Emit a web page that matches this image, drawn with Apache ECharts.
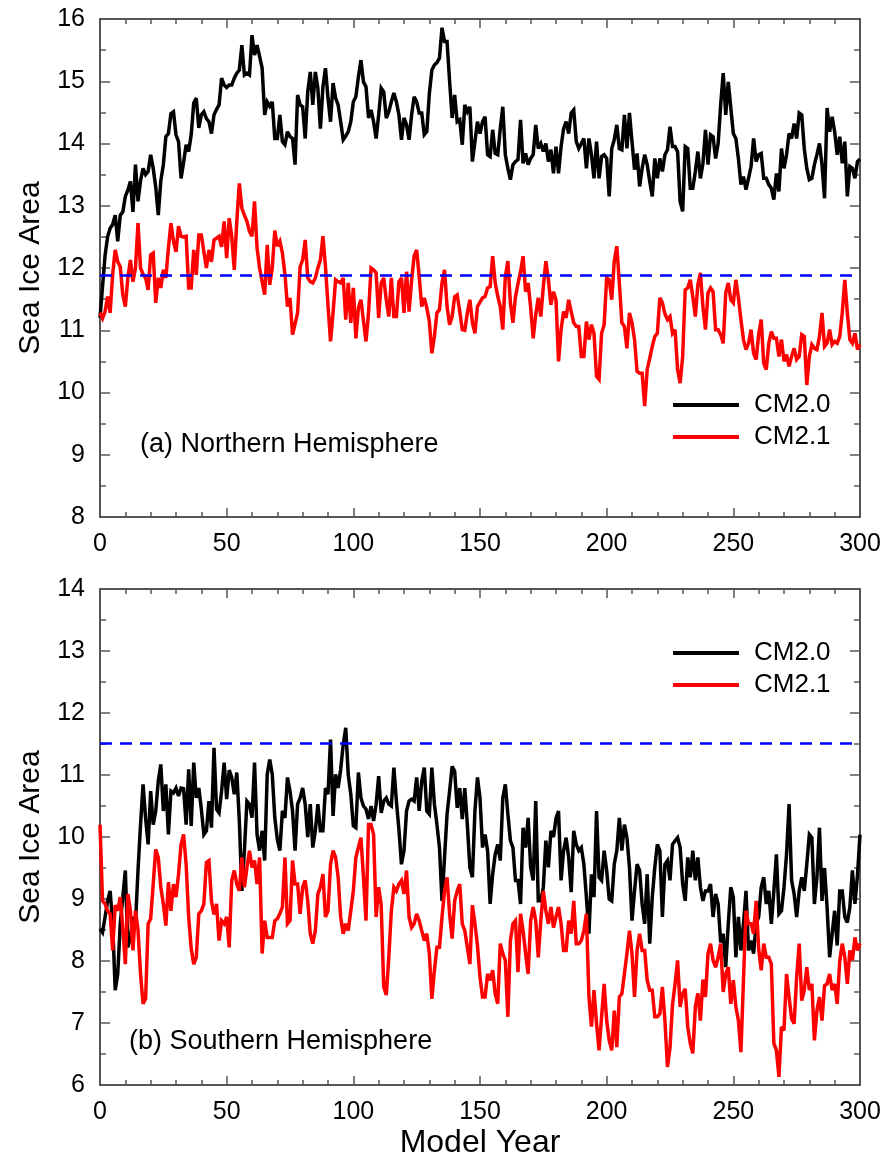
<!DOCTYPE html>
<html>
<head>
<meta charset="utf-8">
<script src="https://cdn.jsdelivr.net/npm/echarts@6/dist/echarts.min.js"></script>
<style>
html,body{margin:0;padding:0;background:#fff;}
#c{width:884px;height:1160px;}
</style>
</head>
<body>
<div id="c"></div>
<script>
// ---------- DATA (one value per model year, 0..300) ----------
const seriesNames = ['CM2.0', 'CM2.1'];
const xTicks = [0, 50, 100, 150, 200, 250, 300];
const nhObserved = 11.88;
const shObserved = 11.52;

const nhCM20 = [
11.2,11.7,12.2,12.5,12.64,12.7,12.85,12.43,12.85,12.9,
13.15,13.25,13.39,12.9,13.66,13.07,13.4,13.6,13.5,13.55,
13.82,13.6,13.3,12.85,13.4,13.66,14.11,14.16,14.48,14.51,
14.14,14.03,13.44,13.7,13.98,13.87,14.14,14.65,14.73,14.25,
14.46,14.51,14.4,14.35,14.16,14.46,14.55,14.62,15.05,14.94,
14.9,14.94,14.94,15.05,15.13,15.18,15.58,15.1,15.13,15.1,
15.74,15.42,15.58,15.4,15.21,14.46,14.67,14.6,14.67,14.08,
14.08,14.46,14.03,13.98,14.19,14.11,14.08,13.66,14.78,14.62,
14.59,14.08,14.83,15.15,14.62,15.15,14.89,14.24,14.91,15.21,
14.73,14.35,14.97,14.73,14.62,14.35,14.06,14.12,14.19,14.35,
14.67,14.75,15.07,15.34,14.99,14.91,14.41,14.54,14.35,14.08,
14.46,14.89,14.83,14.41,14.51,14.67,14.81,14.67,14.46,14.06,
14.41,14.3,14.06,14.46,14.75,14.67,14.49,14.49,14.14,14.19,
14.8,15.18,15.26,15.3,15.37,15.86,15.64,15.64,15.0,14.41,
14.78,14.35,14.38,13.98,14.62,14.51,14.59,13.71,14.03,14.35,
14.16,14.35,14.43,13.82,13.79,14.22,13.84,13.82,14.24,14.59,
13.82,13.6,13.42,13.66,13.71,13.74,14.38,13.68,13.84,13.66,
13.76,13.82,14.3,13.92,14.0,13.87,14.0,13.71,13.9,13.52,
13.95,13.52,13.95,14.24,14.35,14.16,14.49,14.54,14.03,13.92,
14.0,14.08,13.6,14.08,13.82,13.44,14.03,13.44,13.79,13.82,
13.76,13.15,13.92,14.06,14.3,13.92,13.9,14.46,13.92,14.49,
14.03,13.58,13.84,13.31,13.6,13.82,13.66,13.39,13.15,13.76,
13.44,13.76,13.55,13.82,13.9,14.27,13.95,13.95,13.87,13.07,
12.91,13.95,13.92,13.28,13.28,13.55,13.87,13.44,13.68,14.22,
13.66,14.14,14.11,13.76,14.0,14.62,15.13,14.46,14.99,14.57,
14.16,14.08,13.76,13.34,13.47,13.26,13.44,13.63,14.08,13.71,
13.82,13.84,13.44,13.44,13.34,13.28,13.1,13.52,13.23,13.92,
13.6,13.82,14.16,14.08,14.32,14.08,14.49,14.46,13.92,13.6,
13.42,13.44,13.66,13.82,14.0,13.66,13.12,14.57,14.19,14.43,
14.19,13.82,14.11,13.68,14.03,13.15,13.63,13.6,13.44,13.71,
13.75];

const nhCM21 = [
11.28,11.19,11.3,11.54,11.28,11.9,12.29,12.1,12.02,11.57,
11.38,11.84,12.13,11.78,12.0,12.72,12.0,11.9,11.84,11.65,
12.21,12.24,11.44,11.84,11.68,11.97,11.84,12.32,12.72,12.43,
12.26,12.67,12.51,12.5,12.51,11.68,11.68,12.29,11.89,12.53,
12.53,12.26,12.0,12.29,12.1,12.45,12.48,12.51,12.34,12.75,
12.16,12.8,12.51,11.97,12.75,13.36,12.96,12.85,12.75,12.59,
12.51,13.07,12.32,12.0,11.78,11.57,12.37,11.73,12.0,12.6,
12.35,12.43,12.24,11.9,11.38,11.52,10.93,11.1,11.28,12.02,
12.13,12.45,11.84,11.78,11.76,11.84,12.0,12.13,12.51,12.02,
11.4,10.82,11.28,11.81,11.78,11.76,11.84,11.17,11.76,11.12,
11.68,10.87,11.36,11.49,11.15,10.82,11.28,12.0,11.97,11.92,
11.2,11.76,11.84,11.49,11.22,11.84,11.22,11.22,11.78,11.84,
11.28,11.94,11.3,11.8,12.19,12.29,11.86,11.38,11.52,11.36,
11.14,10.63,10.9,11.28,11.33,11.76,11.97,11.38,11.09,11.22,
11.54,11.57,11.3,11.01,11.0,11.28,11.49,11.12,10.95,11.38,
11.45,11.52,11.54,11.68,11.7,12.19,11.76,11.55,11.38,11.01,
11.86,12.11,11.44,11.12,11.54,11.75,11.94,12.19,11.62,11.76,
11.36,10.87,11.25,11.52,11.22,11.7,12.11,11.81,11.41,11.62,
11.49,10.5,11.01,11.3,11.2,11.49,11.3,11.12,11.06,11.06,
10.58,10.58,11.14,10.85,11.09,10.95,10.26,10.21,10.95,11.09,
11.84,11.81,11.49,12.11,12.35,11.76,11.12,11.06,10.71,11.28,
11.12,10.85,10.34,10.31,10.31,9.78,10.37,10.55,10.74,10.9,
10.95,11.52,11.44,11.26,11.17,11.22,10.95,11.01,10.37,10.15,
10.58,11.65,11.68,11.81,11.54,11.22,11.73,11.92,11.38,11.01,
11.6,11.68,11.62,11.01,11.01,10.93,10.79,11.6,11.76,11.49,
11.44,11.81,11.52,11.17,10.85,10.69,10.79,11.01,10.63,10.53,
10.93,11.17,10.47,10.37,10.79,10.98,10.87,10.87,10.58,10.85,
10.5,10.61,10.42,10.58,10.71,10.53,10.58,10.93,10.9,10.12,
10.58,10.77,10.71,10.69,10.9,11.28,10.74,10.79,11.01,10.77,
10.82,10.79,10.9,11.28,11.81,11.28,10.85,10.79,10.95,10.69,
10.77];

const shCM20 = [
8.52,8.46,8.71,8.97,9.13,8.6,7.53,7.79,8.6,9.03,
9.46,8.22,8.38,8.71,8.6,9.46,10.2,10.85,10.3,9.88,
10.74,10.2,10.42,10.9,11.17,10.42,10.85,10.04,10.74,10.71,
10.79,10.66,10.79,10.78,10.2,11.09,10.18,11.2,10.63,10.79,
10.45,10.04,10.1,10.58,10.15,11.44,10.45,10.39,10.74,11.2,
10.61,11.08,10.96,10.69,11.04,10.26,9.13,9.78,10.58,10.53,
10.31,11.2,10.04,9.78,10.1,9.62,11.01,11.25,11.01,10.31,
9.96,9.78,10.42,10.31,10.96,10.74,10.42,9.78,10.53,10.63,
10.79,10.53,10.0,10.53,9.83,10.1,10.53,10.1,10.1,10.79,
10.69,11.57,10.34,11.01,10.79,11.09,11.49,11.76,11.0,10.69,
10.18,10.15,11.04,10.63,10.5,10.45,10.29,10.5,10.26,10.53,
10.98,10.39,10.58,10.63,10.53,10.5,11.12,10.58,10.12,9.56,
9.78,10.42,10.58,10.61,10.58,10.96,10.42,10.9,11.12,10.42,
10.37,11.12,10.53,10.2,9.83,8.97,9.67,10.37,10.74,11.14,
11.06,10.47,10.79,10.29,10.79,10.2,9.51,9.35,10.42,10.96,
10.63,9.83,10.04,9.78,8.92,9.4,9.72,9.88,9.62,10.63,
10.85,10.37,9.94,9.83,9.3,9.3,8.92,10.15,9.83,10.31,
9.51,9.3,10.58,8.97,8.97,9.19,9.94,9.51,10.1,10.0,
10.3,10.42,9.3,9.78,9.99,9.67,9.11,10.1,9.88,9.78,
9.83,9.56,9.03,8.44,9.4,9.03,10.42,9.35,9.3,9.78,
9.46,9.0,8.97,9.56,9.78,10.31,9.78,10.2,9.99,9.51,
8.65,9.13,9.56,9.46,8.92,8.6,9.4,8.28,9.03,9.51,
9.88,9.78,8.71,9.56,9.62,9.3,9.88,9.94,9.99,9.83,
9.24,8.97,9.67,9.35,9.78,9.3,9.67,9.19,8.97,9.13,
9.13,9.24,8.71,9.08,8.92,8.3,8.44,7.9,8.6,9.19,
9.03,8.06,8.71,8.17,8.6,9.13,8.17,8.33,8.12,8.6,
8.71,9.19,9.35,8.92,9.13,8.6,9.13,9.72,8.76,8.81,
9.19,9.72,10.53,9.3,9.08,8.71,9.13,9.35,9.13,9.56,
10.04,9.99,8.92,9.35,10.15,8.97,9.5,8.87,8.06,8.44,
8.81,8.25,9.13,9.13,8.71,8.62,8.87,9.46,8.92,9.38,
10.04];

const shCM21 = [
10.2,8.97,8.92,8.81,8.76,8.17,8.9,8.81,9.03,8.54,
7.95,9.08,8.81,8.17,8.81,8.5,7.79,7.31,7.39,8.6,
8.68,9.24,9.8,9.67,9.19,8.92,8.57,9.27,8.81,9.24,
9.03,9.4,9.88,10.04,9.56,8.71,8.2,7.95,8.06,8.76,
8.81,8.92,9.59,9.62,8.97,8.75,8.92,8.33,8.65,8.6,
8.71,8.22,9.3,9.46,9.24,9.13,9.67,9.19,9.51,9.78,
9.51,9.62,9.24,9.67,8.12,8.65,8.38,8.38,8.38,8.65,
8.68,8.76,8.87,9.67,8.6,8.65,9.62,9.24,9.24,8.76,
9.19,9.3,8.97,8.44,8.28,8.49,9.08,9.19,9.4,8.71,
8.81,9.56,9.78,9.67,9.35,8.71,8.44,8.6,8.49,8.81,
9.13,9.67,9.83,9.99,9.35,8.65,10.2,10.2,10.04,8.71,
9.19,8.9,7.58,7.45,8.06,8.81,9.19,9.13,9.24,9.3,
9.08,9.46,8.71,8.54,8.6,8.76,8.65,8.49,8.33,8.44,
8.12,7.39,7.85,8.22,8.22,8.71,9.13,9.35,8.76,8.36,
8.97,9.13,9.24,8.6,8.49,8.22,7.95,8.9,8.6,8.25,
7.74,7.42,7.42,7.79,7.69,7.85,7.47,7.31,8.28,8.12,
8.01,7.1,8.33,8.6,8.65,7.82,8.76,8.49,8.12,7.79,
8.65,8.87,8.65,8.06,8.65,9.13,8.81,8.6,8.87,8.54,
8.71,8.87,8.6,8.17,8.17,8.65,8.44,8.97,8.28,8.28,
8.33,8.49,8.76,7.42,6.94,7.53,6.99,6.56,7.1,7.63,
7.04,6.72,6.56,7.2,6.61,7.42,7.47,7.79,8.12,8.49,
8.12,7.42,8.17,8.44,8.17,8.17,7.69,7.53,7.53,7.1,
7.1,7.15,7.58,7.04,6.29,6.6,7.3,7.63,8.01,7.26,
7.47,7.55,6.94,6.67,6.51,7.26,7.48,7.04,7.7,7.42,
8.12,8.28,8.01,7.9,8.06,8.28,7.5,7.79,7.9,7.31,
7.69,7.26,7.04,6.53,7.69,8.81,8.6,8.6,8.44,8.97,
8.2,7.85,8.28,8.06,8.06,7.95,6.67,6.56,6.13,6.94,
6.88,7.79,7.42,7.07,6.99,7.74,8.28,7.36,7.53,7.9,
7.53,7.63,6.72,7.2,7.42,7.04,7.6,7.63,7.79,7.53,
7.63,7.31,8.0,8.28,8.06,7.63,8.17,8.01,8.38,8.17,
8.28];

// ---------- CHART ----------
const FONT = '"Liberation Sans", Arial, Helvetica, sans-serif';
const FRAME = '#555';
const toPairs = arr => arr.map((v, i) => [i, v]);

function xAxisDef(gridIndex, pos, showLabels, name) {
  return {
    type: 'value', gridIndex, position: pos, min: xTicks[0], max: xTicks[xTicks.length - 1], interval: 50,
    axisLine: { show: true, onZero: false, lineStyle: { color: FRAME, width: 2 } },
    axisTick: { show: true, inside: true, length: 9, lineStyle: { color: FRAME, width: 1.5 } },
    minorTick: { show: true, splitNumber: 5, length: 5, lineStyle: { color: FRAME, width: 1.5 } },
    splitLine: { show: false }, minorSplitLine: { show: false },
    axisLabel: { show: showLabels, fontSize: 25, color: '#000', fontFamily: FONT, margin: 15 },
    name: name || '', nameLocation: 'middle', nameGap: 42,
    nameTextStyle: { fontSize: 32, color: '#000', fontFamily: FONT }
  };
}
function yAxisDef(gridIndex, pos, showLabels, min, max, name) {
  return {
    type: 'value', gridIndex, position: pos, min, max, interval: 1,
    axisLine: { show: true, onZero: false, lineStyle: { color: FRAME, width: 2 } },
    axisTick: { show: true, inside: true, length: 10, lineStyle: { color: FRAME, width: 1.5 } },
    minorTick: { show: true, splitNumber: 2, length: 6, lineStyle: { color: FRAME, width: 1.5 } },
    splitLine: { show: false }, minorSplitLine: { show: false },
    axisLabel: { show: showLabels, fontSize: 25, color: '#000', fontFamily: FONT, margin: 15 },
    name: name || '', nameLocation: 'middle', nameGap: 54,
    nameTextStyle: { fontSize: 30, color: '#000', fontFamily: FONT }
  };
}
function lineSeries(name, color, data, xi, yi, obs) {
  const s = {
    name, type: 'line', xAxisIndex: xi, yAxisIndex: yi, data: toPairs(data),
    symbol: 'none', showSymbol: false, silent: true, clip: true,
    lineStyle: { color, width: 3.5, join: 'miter', miterLimit: 3 }, itemStyle: { color },
    animation: false
  };
  if (obs !== undefined) {
    s.markLine = {
      silent: true, symbol: 'none', animation: false,
      label: { show: false },
      lineStyle: { color: '#0000ff', width: 2.5, type: [12, 8] },
      data: [{ yAxis: obs }]
    };
  }
  return s;
}

const chart = echarts.init(document.getElementById('c'), null, { renderer: 'canvas' });
const legendCommon = {
  orient: 'vertical', data: seriesNames.map(n => ({ name: n, icon: 'rect' })),
  itemWidth: 66, itemHeight: 4, itemGap: 6,
  selectedMode: false,
  textStyle: { fontSize: 26, lineHeight: 26, color: '#000', fontFamily: FONT, padding: [0, 0, 0, 10] }
};
chart.setOption({
  animation: false,
  backgroundColor: '#fff',
  grid: [
    { left: 100, top: 19, width: 760, height: 498 },
    { left: 100, top: 589, width: 760, height: 496 }
  ],
  xAxis: [
    xAxisDef(0, 'bottom', true),
    xAxisDef(0, 'top', false),
    xAxisDef(1, 'bottom', true, 'Model Year'),
    xAxisDef(1, 'top', false)
  ],
  yAxis: [
    yAxisDef(0, 'left', true, 8, 16, 'Sea Ice Area'),
    yAxisDef(0, 'right', false, 8, 16),
    yAxisDef(1, 'left', true, 6, 14, 'Sea Ice Area'),
    yAxisDef(1, 'right', false, 6, 14)
  ],
  legend: [
    Object.assign({ left: 668, top: 387 }, legendCommon),
    Object.assign({ left: 668, top: 635 }, legendCommon)
  ],
  graphic: [
    { type: 'text', left: 140, top: 431, silent: true,
      style: { text: '(a) Northern Hemisphere', fontSize: 27, fontFamily: FONT, fill: '#000' } },
    { type: 'text', left: 129, top: 1028, silent: true,
      style: { text: '(b) Southern Hemisphere', fontSize: 27, fontFamily: FONT, fill: '#000' } }
  ],
  series: [
    lineSeries(seriesNames[0], '#000000', nhCM20, 0, 0),
    lineSeries(seriesNames[1], '#ff0000', nhCM21, 0, 0, nhObserved),
    lineSeries(seriesNames[0], '#000000', shCM20, 2, 2),
    lineSeries(seriesNames[1], '#ff0000', shCM21, 2, 2, shObserved)
  ]
});
</script>
</body>
</html>
